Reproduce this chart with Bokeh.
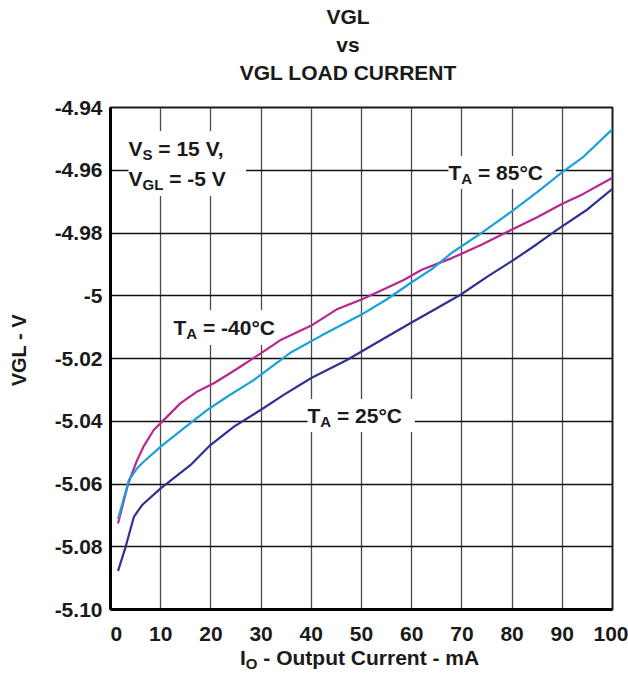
from bokeh.plotting import figure
from bokeh.models import Range1d, FixedTicker, Label, Div
from bokeh.layouts import column
from bokeh.embed import file_html
from bokeh.resources import INLINE

# ---------------- data ----------------
x_ticks = [0, 10, 20, 30, 40, 50, 60, 70, 80, 90, 100]
x_tick_labels = ["0", "10", "20", "30", "40", "50", "60", "70", "80", "90", "100"]
y_ticks = [-5.10, -5.08, -5.06, -5.04, -5.02, -5.0, -4.98, -4.96, -4.94]
y_tick_labels = ["-5.10", "-5.08", "-5.06", "-5.04", "-5.02", "-5", "-4.98", "-4.96", "-4.94"]

io_m40 = [1.5, 3.5, 5.3, 6.6, 8.6, 10, 13.9, 17.3, 20.6, 25, 30, 34, 40, 45, 50, 55, 58.5, 62, 68, 74, 80, 85, 90, 94, 100]
vgl_m40 = [-5.0726, -5.0600, -5.0524, -5.0480, -5.0428, -5.0406, -5.0343, -5.0305, -5.0279, -5.0235, -5.0183,
           -5.0140, -5.0095, -5.0044, -5.0012, -4.9975, -4.9949, -4.9917, -4.9880, -4.9837, -4.9789, -4.9750,
           -4.9707, -4.9677, -4.9624]

io_85 = [1.5, 3.65, 5.3, 6.6, 10, 15.9, 19.3, 23.3, 28.6, 36, 42, 50, 55, 60, 64, 68, 74, 80, 85, 90, 94, 100]
vgl_85 = [-5.0712, -5.0588, -5.0550, -5.0529, -5.0481, -5.0406, -5.0364, -5.0321, -5.0268, -5.0180, -5.0127,
          -5.0060, -5.0012, -4.9957, -4.9915, -4.9863, -4.9799, -4.9730, -4.9670, -4.9606, -4.9560, -4.9469]

io_25 = [1.5, 3.0, 4.65, 6.3, 10, 15.9, 19.9, 24.6, 29.9, 34.5, 40, 47.2, 53, 59.8, 65, 69.8, 75, 80.4, 85, 89, 95, 100]
vgl_25 = [-5.0877, -5.0801, -5.0705, -5.0667, -5.0614, -5.0540, -5.0476, -5.0417, -5.0364, -5.0316, -5.0262,
          -5.0204, -5.0150, -5.0087, -5.0040, -4.9996, -4.9940, -4.9885, -4.9835, -4.9789, -4.9725, -4.9659]

title_lines = ["VGL", "vs", "VGL LOAD CURRENT"]
y_title = "VGL - V"
x_title_main, x_title_sub, x_title_rest = "I", "O", " - Output Current - mA"

# ---------------- style ----------------
FONT = "Liberation Sans"
TXT = "#1a1a1a"
C_MAG = "#B8278F"
C_CYAN = "#1BA0DA"
C_NAVY = "#2E3192"
NB = "\u00a0"
FS, FSUB = 21, 15

W = {' ': 278, NB: 278, '=': 584, '-': 333, '.': 278, ',': 278, '°': 400, 'A': 722, 'C': 722, 'G': 778,
     'L': 611, 'O': 778, 'S': 667, 'T': 611, 'V': 667, 'I': 278}


def tw(s, size):
    return sum(W.get(c, 556) for c in s) * size / 1000.0


PAGE_W = 628
TITLE_H = 90
FRAME_L, FRAME_T, FRAME_R, FRAME_B = 110, 107, 612, 609
MAIN_BOT = 38
MAIN_H = (FRAME_T - TITLE_H) + (FRAME_B - FRAME_T) + MAIN_BOT
XL_H = 674 - TITLE_H - MAIN_H

title_html = (
    f'<div style="margin-left:120px;width:456px;text-align:center;padding-top:3px;'
    f'font-family:\'{FONT}\',Arial,sans-serif;font-weight:bold;font-size:21px;line-height:28px;'
    f'color:{TXT};white-space:nowrap;">' + "<br>".join(title_lines) + "</div>"
)
title_div = Div(text=title_html, width=PAGE_W, height=TITLE_H, margin=(0, 0, 0, 0))

xl_html = (
    f'<div style="padding-left:240px;padding-top:0px;white-space:nowrap;'
    f'font-family:\'{FONT}\',Arial,sans-serif;font-weight:bold;font-size:{FS}px;line-height:22px;color:{TXT};">'
    f'{x_title_main}<span style="font-size:{FSUB}px;position:relative;top:4px;">{x_title_sub}</span>'
    f'{x_title_rest.replace(" ", "&nbsp;", 1)}</div>'
)
xl_div = Div(text=xl_html, width=PAGE_W, height=XL_H, margin=(0, 0, 0, 0))

p = figure(width=PAGE_W, height=MAIN_H, output_backend="svg", toolbar_location=None,
           x_range=Range1d(0, 100), y_range=Range1d(-5.10, -4.94),
           min_border_left=FRAME_L, min_border_right=PAGE_W - FRAME_R,
           min_border_top=FRAME_T - TITLE_H, min_border_bottom=MAIN_BOT)
p.title = None
p.background_fill_color = "white"
p.border_fill_color = "white"
p.outline_line_color = TXT
p.outline_line_width = 2

for ax in (p.xaxis[0], p.yaxis[0]):
    ax.major_tick_in = 0
    ax.major_tick_out = 0
    ax.minor_tick_in = 0
    ax.minor_tick_out = 0
    ax.axis_line_width = 3
    ax.axis_line_color = "black"
    ax.major_label_text_font = FONT
    ax.major_label_text_font_style = "bold"
    ax.major_label_text_font_size = f"{FS}px"
    ax.major_label_text_color = TXT

p.xaxis[0].axis_label = None
p.yaxis[0].axis_label = NB * 3 + y_title
p.yaxis[0].axis_label_text_font = FONT
p.yaxis[0].axis_label_text_font_style = "bold"
p.yaxis[0].axis_label_text_font_size = "20px"
p.yaxis[0].axis_label_text_color = TXT
p.yaxis[0].axis_label_standoff = 22

p.xaxis[0].ticker = FixedTicker(ticks=x_ticks)
p.yaxis[0].ticker = FixedTicker(ticks=y_ticks)
x_over = dict(zip(x_ticks, x_tick_labels))
x_over[0] = NB * 2 + x_over[0]          # first label sits clear of the y axis, as in the original
p.xaxis[0].major_label_overrides = x_over
p.yaxis[0].major_label_overrides = dict(zip(y_ticks, y_tick_labels))
p.xaxis[0].major_label_standoff = 12
p.yaxis[0].major_label_standoff = 8

p.xgrid.grid_line_color = "#4a4a4a"
p.xgrid.grid_line_width = 1.3
p.ygrid.grid_line_color = "#111111"
p.ygrid.grid_line_width = 1.3


def make_lab(text, px, py, size, **kw):
    # px, py: page pixel position of the text's left baseline point
    p.add_layout(Label(x=px - FRAME_L, y=FRAME_B - py, x_units="screen", y_units="screen",
                       text=text, text_font=FONT, text_font_style="bold",
                       text_font_size=f"{size}px", text_color=kw.pop("text_color", TXT),
                       text_align="left", text_baseline="alphabetic", **kw))


def rich(parts, px, py, pad=5):
    full = "".join(t for t, _, _ in parts)
    # white box under the text that hides the grid but stays below the curves
    make_lab(full, px, py, FS, text_color="white", level="underlay",
             background_fill_color="white", background_fill_alpha=1.0, padding=pad)
    x = px
    for t, size, drop in parts:
        make_lab(t, x, py + drop, size)
        x += tw(t, size)


p.line(io_m40, vgl_m40, line_color=C_MAG, line_width=2.2)
p.line(io_85, vgl_85, line_color=C_CYAN, line_width=2.2)
p.line(io_25, vgl_25, line_color=C_NAVY, line_width=2.2)

rich([("V", FS, 0), ("S", FSUB, 6), (NB + "= 15 V,", FS, 0)], 128, 148, pad=6)
rich([("V", FS, 0), ("GL", FSUB, 6), (NB + "= -5 V", FS, 0)], 128, 178, pad=6)
rich([("T", FS, 0), ("A", FSUB, 6), (NB + "= 85°C", FS, 0)], 448, 172, pad=5)
rich([("T", FS, 0), ("A", FSUB, 6), (NB + "= -40°C", FS, 0)], 173, 327, pad=6)
rich([("T", FS, 0), ("A", FSUB, 6), (NB + "= 25°C", FS, 0)], 307, 415, pad=5)

layout = column(title_div, p, xl_div, spacing=0)
open("out.html", "w").write(file_html(layout, INLINE))
